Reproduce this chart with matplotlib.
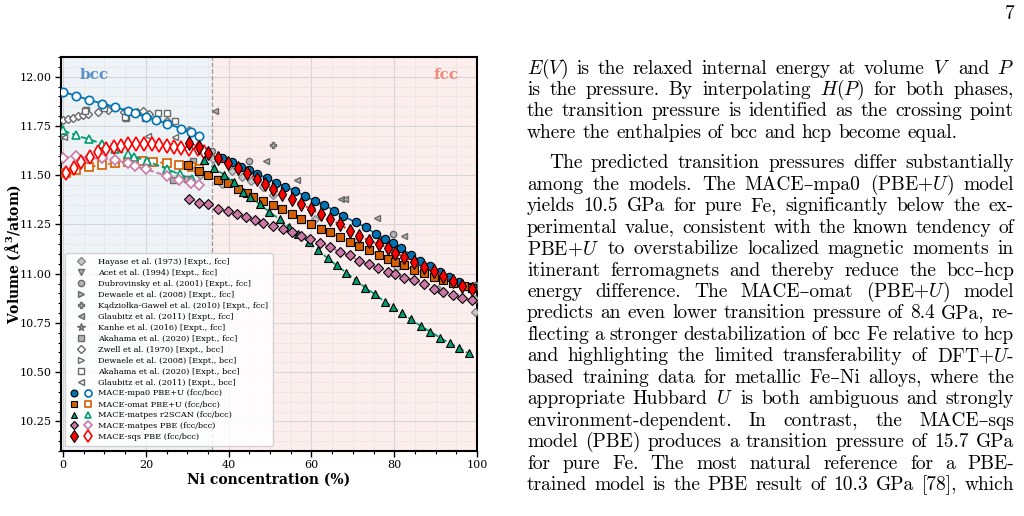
import matplotlib
matplotlib.use('Agg')
import matplotlib.pyplot as plt
from matplotlib.lines import Line2D
from matplotlib.legend_handler import HandlerTuple
from matplotlib.ticker import MultipleLocator, FormatStrFormatter

# ---------------- data ----------------
# MACE-mpa0 PBE+U
mpa0_bcc_x = [0, 3.1, 6.3, 9.4, 12.5, 15.6, 17.3, 20, 22.5, 25, 28.6, 30.8, 32.8]
mpa0_bcc_y = [11.924, 11.903, 11.882, 11.864, 11.847, 11.826, 11.814, 11.797, 11.78, 11.762, 11.737, 11.72, 11.70]
mpa0_fcc_x = [38.4, 40.7, 42.9, 44.9, 46.8, 49.2, 51.5, 53.7, 56.1, 58.5, 60.8, 63.1, 65.5, 67.7, 70.8,
              73.2, 75.6, 77.8, 79.8, 81.7, 84.0, 86.3, 88.7, 91.0, 93.3, 95.6, 98.4]
mpa0_fcc_y = [11.585, 11.565, 11.543, 11.526, 11.504, 11.487, 11.462, 11.442, 11.42, 11.394, 11.369, 11.35,
              11.32, 11.292, 11.26, 11.235, 11.201, 11.176, 11.154, 11.128, 11.097, 11.067, 11.039, 11.01,
              10.983, 10.96, 10.934]

# MACE-omat PBE+U
omat_bcc_x = [0.7, 3.2, 6.3, 9.3, 12.5, 15.6, 19, 21.8, 25, 28.1, 31.1, 32.8]
omat_bcc_y = [11.509, 11.528, 11.541, 11.553, 11.562, 11.567, 11.572, 11.565, 11.563, 11.551, 11.543, 11.533]
omat_fcc_x = [30.2, 32.8, 35.1, 37.5, 39.9, 42.2, 44.4, 45.8, 48.2, 50.7, 53.0, 55.2, 57.6, 59.8, 62.3, 64.5,
              66.9, 69.2, 71.6, 74.0, 76.3, 78.6, 80.1, 82.4, 84.7, 87.1, 89.5, 91.9, 94.2, 96.8, 98.9]
omat_fcc_y = [11.55, 11.52, 11.499, 11.474, 11.458, 11.428, 11.408, 11.389, 11.369, 11.347, 11.326, 11.305,
              11.279, 11.254, 11.228, 11.211, 11.185, 11.161, 11.14, 11.12, 11.096, 11.073, 11.059, 11.042,
              11.018, 11.005, 10.985, 10.967, 10.954, 10.94, 10.925]

# MACE-matpes r2SCAN
r2_bcc_x = [0, 3.1, 6.3, 9.4, 12.5, 15.6, 17.2, 20.2, 25, 28.2, 31.1]
r2_bcc_y = [11.727, 11.702, 11.682, 11.66, 11.631, 11.606, 11.594, 11.572, 11.533, 11.504, 11.479]
r2_fcc_x = [34.0, 36.5, 38.9, 41.2, 43.5, 45.2, 47.5, 49.8, 52.3, 54.7, 56.8, 59.3, 61.5, 63.9, 66.1, 68.4,
            70.8, 73.0, 75.4, 77.8, 79.7, 81.9, 84.1, 86.4, 88.7, 91.1, 93.4, 95.6, 98.0]
r2_fcc_y = [11.576, 11.535, 11.502, 11.464, 11.417, 11.39, 11.352, 11.315, 11.276, 11.237, 11.2, 11.162,
            11.12, 11.079, 11.042, 11.005, 10.967, 10.929, 10.895, 10.856, 10.831, 10.798, 10.768, 10.734,
            10.706, 10.675, 10.646, 10.624, 10.595]

# MACE-matpes PBE
pbe_bcc_x = [0, 3.1, 6.3, 9.4, 12.5, 15.6, 17.3, 20, 25, 28.1, 30.8, 32.8]
pbe_bcc_y = [11.587, 11.597, 11.585, 11.585, 11.576, 11.562, 11.545, 11.53, 11.497, 11.478, 11.462, 11.448]
pbe_fcc_x = [30.5, 32.9, 35.1, 37.5, 39.8, 42.1, 44.3, 46.3, 48.4, 50.6, 53.1, 55.2, 57.5, 59.7, 62.1, 64.5,
             66.9, 69.2, 71.6, 74.0, 76.2, 78.5, 80.1, 82.4, 84.8, 87.1, 89.5, 91.9, 94.2, 96.5, 98.9]
pbe_fcc_y = [11.381, 11.36, 11.352, 11.33, 11.318, 11.301, 11.288, 11.274, 11.257, 11.241, 11.225, 11.211,
             11.191, 11.174, 11.156, 11.135, 11.11, 11.093, 11.064, 11.047, 11.03, 11.008, 11.0, 10.98,
             10.967, 10.946, 10.924, 10.907, 10.89, 10.878, 10.864]

# MACE-sqs PBE
sqs_bcc_x = [0.8, 2.6, 4.4, 6.5, 8.5, 10.3, 12.3, 14.0, 15.8, 17.6, 19.5, 21.4, 23.2, 25.0, 26.9, 28.6,
             30.5, 32.5, 34.1]
sqs_bcc_y = [11.513, 11.538, 11.566, 11.594, 11.617, 11.634, 11.645, 11.65, 11.656, 11.66, 11.66, 11.656,
             11.651, 11.648, 11.645, 11.64, 11.635, 11.631, 11.617]
sqs_fcc_x = [30.3, 32.8, 35.1, 37.5, 39.9, 42.3, 44.5, 46.8, 48.7, 50.6, 52.8, 55.2, 57.5, 59.9, 62.3, 64.5,
             66.9, 69.2, 71.6, 74.0, 76.3, 78.6, 80.1, 82.4, 84.8, 87.3, 89.5, 91.9, 94.2, 96.5, 98.9]
sqs_fcc_y = [11.665, 11.645, 11.615, 11.585, 11.56, 11.535, 11.51, 11.48, 11.455, 11.43, 11.403, 11.377,
             11.355, 11.327, 11.302, 11.276, 11.25, 11.219, 11.192, 11.168, 11.149, 11.132, 11.107, 11.086,
             11.059, 11.034, 11.013, 10.988, 10.962, 10.94, 10.92]

# experiments
hayase_x = [33.0, 36.1, 38.3, 40.7, 43.2, 45.4, 48.2, 50.6, 60.9, 70.7, 80.6, 90.7, 99.6, 99.6]
hayase_y = [11.50, 11.58, 11.453, 11.52, 11.49, 11.47, 11.44, 11.397, 11.279, 11.16, 11.035, 10.92, 10.873, 10.805]
acet_x = [99.8]
acet_y = [10.945]
dubrov_x = [35.9, 44.8, 79.7]
dubrov_y = [11.622, 11.572, 11.20]
dewaele_fcc_x = [99.8]
dewaele_fcc_y = [10.937]
kadz_x = [50.8]
kadz_y = [11.653]
glaub_fcc_x = [36.7, 49.0, 56.5, 67.2, 68.2, 75.8, 82.3]
glaub_fcc_y = [11.825, 11.572, 11.474, 11.377, 11.377, 11.284, 11.191]
kanhe_x = [99.8]
kanhe_y = [10.93]
akah_fcc_x = [5.5, 15.2, 26.6, 29.9, 30.6, 31.4]
akah_fcc_y = [11.83, 11.79, 11.475, 11.479, 11.558, 11.572]
zwell_x = [0, 1.2, 2.4, 3.6, 4.8, 6.0, 8.5, 10.9, 14.7, 17.8, 19.2, 20.8, 25, 28.6, 30.5]
zwell_y = [11.778, 11.783, 11.79, 11.80, 11.807, 11.81, 11.82, 11.83, 11.82, 11.82, 11.825, 11.812, 11.775,
           11.733, 11.728]
dewaele_bcc_x = [0.2]
dewaele_bcc_y = [11.70]
akah_bcc_x = [5.2, 9.9, 15.0, 19.9, 23.0, 25.0, 27.0]
akah_bcc_y = [11.825, 11.84, 11.795, 11.79, 11.815, 11.814, 11.775]
glaub_bcc_x = [0.2, 20.4, 27.0]
glaub_bcc_y = [11.695, 11.70, 11.695]

# ---------------- figure ----------------
plt.rcParams['font.family'] = ['DejaVu Serif']
plt.rcParams['mathtext.fontset'] = 'dejavuserif'

fig = plt.figure(figsize=(10.24, 5.16), dpi=100)
ax = fig.add_axes([0.0596, 0.126, 0.4062, 0.7635])

ax.set_xlim(-0.5, 100)
ax.set_ylim(10.1, 12.1)
ax.axvspan(-0.5, 36, color='#eef3f8', zorder=0, lw=0)
ax.axvspan(36, 100, color='#fdeeee', zorder=0, lw=0)
ax.axvline(36, color='#999999', ls='--', lw=0.9, zorder=1)

ax.xaxis.set_major_locator(MultipleLocator(20))
ax.xaxis.set_minor_locator(MultipleLocator(5))
ax.yaxis.set_major_locator(MultipleLocator(0.25))
ax.yaxis.set_minor_locator(MultipleLocator(0.05))
ax.yaxis.set_major_formatter(FormatStrFormatter('%.2f'))
ax.grid(which='major', color='#d6d6d6', lw=0.8, zorder=0.5)
ax.grid(which='minor', color='#e6e6e6', lw=0.5, zorder=0.5)
ax.set_axisbelow(True)
ax.tick_params(which='major', direction='out', length=4, width=1, labelsize=8, pad=2.5)
ax.tick_params(which='minor', direction='out', length=2, width=0.8)
for s in ax.spines.values():
    s.set_linewidth(1.5)

ax.set_xlabel('Ni concentration (%)', fontsize=10, fontweight='bold', labelpad=2)
ax.set_ylabel('Volume (Å$^\\mathbf{3}$/atom)', fontsize=10, fontweight='bold')
ax.yaxis.set_label_coords(-0.092, 0.5)

ax.text(0.045, 0.954, 'bcc', transform=ax.transAxes, color='#5b8fc8', fontsize=11,
        fontweight='bold', va='center')
ax.text(0.955, 0.954, 'fcc', transform=ax.transAxes, color='#f08a78', fontsize=11,
        fontweight='bold', va='center', ha='right')

# experiments
EXP_F = '#b4b4b4'
EXP_E = '#6a6a6a'
exp_specs = [
    (hayase_x, hayase_y, 'D', '#c8c8c8', '#8a8a8a', 4.5, 'Hayase et al. (1973) [Expt., fcc]'),
    (acet_x, acet_y, 'v', EXP_F, EXP_E, 4.5, 'Acet et al. (1994) [Expt., fcc]'),
    (dubrov_x, dubrov_y, 'o', EXP_F, EXP_E, 4.5, 'Dubrovinsky et al. (2001) [Expt., fcc]'),
    (dewaele_fcc_x, dewaele_fcc_y, '>', EXP_F, EXP_E, 4.5, 'Dewaele et al. (2008) [Expt., fcc]'),
    (kadz_x, kadz_y, 'P', EXP_F, EXP_E, 5, 'Kądziołka-Gaweł et al. (2010) [Expt., fcc]'),
    (glaub_fcc_x, glaub_fcc_y, '<', EXP_F, EXP_E, 4.5, 'Glaubitz et al. (2011) [Expt., fcc]'),
    (kanhe_x, kanhe_y, '*', EXP_F, EXP_E, 5.5, 'Kanhe et al. (2016) [Expt., fcc]'),
    (akah_fcc_x, akah_fcc_y, 's', EXP_F, EXP_E, 4.5, 'Akahama et al. (2020) [Expt., fcc]'),
    (zwell_x, zwell_y, 'D', 'white', EXP_E, 4.5, 'Zwell et al. (1970) [Expt., bcc]'),
    (dewaele_bcc_x, dewaele_bcc_y, '>', 'white', EXP_E, 4.5, 'Dewaele et al. (2008) [Expt., bcc]'),
    (akah_bcc_x, akah_bcc_y, 's', 'white', EXP_E, 5, 'Akahama et al. (2020) [Expt., bcc]'),
    (glaub_bcc_x, glaub_bcc_y, '<', 'white', EXP_E, 4.5, 'Glaubitz et al. (2011) [Expt., bcc]'),
]
handles, labels = [], []
for xs, ys, mk, fc, ec, ms, lab in exp_specs:
    ax.plot(xs, ys, ls='none', marker=mk, mfc=fc, mec=ec, mew=1.0, ms=ms, zorder=3)
    handles.append(Line2D([], [], ls='none', marker=mk, mfc=fc, mec=ec, mew=1.0, ms=ms))
    labels.append(lab)

# models
model_specs = [
    (mpa0_fcc_x, mpa0_fcc_y, mpa0_bcc_x, mpa0_bcc_y, '#0072B2', '-', 'o', 6, 'MACE-mpa0 PBE+U (fcc/bcc)'),
    (omat_fcc_x, omat_fcc_y, omat_bcc_x, omat_bcc_y, '#D55E00', ':', 's', 6, 'MACE-omat PBE+U (fcc/bcc)'),
    (r2_fcc_x, r2_fcc_y, r2_bcc_x, r2_bcc_y, '#009E73', '--', '^', 6, 'MACE-matpes r2SCAN (fcc/bcc)'),
    (pbe_fcc_x, pbe_fcc_y, pbe_bcc_x, pbe_bcc_y, '#CC79A7', '--', 'D', 5.5, 'MACE-matpes PBE (fcc/bcc)'),
    (sqs_fcc_x, sqs_fcc_y, sqs_bcc_x, sqs_bcc_y, '#FF0000', ':', 'd', 7, 'MACE-sqs PBE (fcc/bcc)'),
]
for xf, yf, xb, yb, col, ls, mk, ms, lab in model_specs:
    ax.plot(xb, yb, ls=ls, color=col, lw=1.3, marker=mk, ms=ms, mfc='white', mec=col, mew=1.2, zorder=4)
    ax.plot(xf, yf, ls=ls, color=col, lw=1.3, marker=mk, ms=ms, mfc=col, mec='black', mew=0.8, zorder=5)
    h_f = Line2D([], [], ls='none', marker=mk, ms=ms - 1, mfc=col, mec='black', mew=0.8)
    h_b = Line2D([], [], ls='none', marker=mk, ms=ms - 1, mfc='white', mec=col, mew=1.2)
    handles.append((h_f, h_b))
    labels.append(lab)

leg = ax.legend(handles, labels, loc='lower left', bbox_to_anchor=(0.006, 0.008), fontsize=5.9,
                handler_map={tuple: HandlerTuple(ndivide=None, pad=0.8)}, handlelength=2.6,
                handletextpad=0.8, labelspacing=0.36, borderpad=0.6, borderaxespad=0.2,
                framealpha=0.85, edgecolor='#cccccc', fancybox=True)
leg.set_zorder(10)

# ---------------- page text ----------------
BODY = ['cmr10', 'DejaVu Serif']
FS = 14
X0, X1 = 527, 1014
renderer = fig.canvas.get_renderer()

para1 = [
    '$E(V)$ is the relaxed internal energy at volume $V$ and $P$',
    'is the pressure. By interpolating $H(P)$ for both phases,',
    'the transition pressure is identified as the crossing point',
    'where the enthalpies of bcc and hcp become equal.',
]
para2 = [
    'The predicted transition pressures differ substantially',
    'among the models. The MACE\u2013mpa0 (PBE+$U$) model',
    'yields 10.5 GPa for pure Fe, significantly below the ex-',
    'perimental value, consistent with the known tendency of',
    'PBE+$U$ to overstabilize localized magnetic moments in',
    'itinerant ferromagnets and thereby reduce the bcc\u2013hcp',
    'energy difference. The MACE\u2013omat (PBE+$U$) model',
    'predicts an even lower transition pressure of 8.4 GPa, re-',
    'flecting a stronger destabilization of bcc Fe relative to hcp',
    'and highlighting the limited transferability of DFT+$U$-',
    'based training data for metallic Fe\u2013Ni alloys, where the',
    'appropriate Hubbard $U$ is both ambiguous and strongly',
    'environment-dependent. In contrast, the MACE\u2013sqs',
    'model (PBE) produces a transition pressure of 15.7 GPa',
    'for pure Fe. The most natural reference for a PBE-',
    'trained model is the PBE result of 10.3 GPa [78], which',
]


def put_line(line, ybase, x0, justify):
    words = line.split()
    texts = [fig.text(0, 1 - ybase / 516, w, fontsize=FS, family=BODY, math_fontfamily='cm',
                      va='baseline', ha='left') for w in words]
    widths = [t.get_window_extent(renderer).width for t in texts]
    if justify and len(words) > 1:
        gap = (X1 - x0 - sum(widths)) / (len(words) - 1)
    else:
        gap = FS * 100 / 72 * 0.333
    x = x0
    for t, w in zip(texts, widths):
        t.set_x(x / 1024)
        x += w + gap


for i, line in enumerate(para1):
    put_line(line, 73.5 + i * 21.4, X0, justify=(i < len(para1) - 1))
for i, line in enumerate(para2):
    put_line(line, 168.3 + i * 21.45, X0 + 22 if i == 0 else X0, justify=True)

fig.text(1010 / 1024, 1 - 19 / 516, '7', fontsize=FS, family=BODY, ha='center', va='baseline')

fig.savefig('out.png', dpi=100)
